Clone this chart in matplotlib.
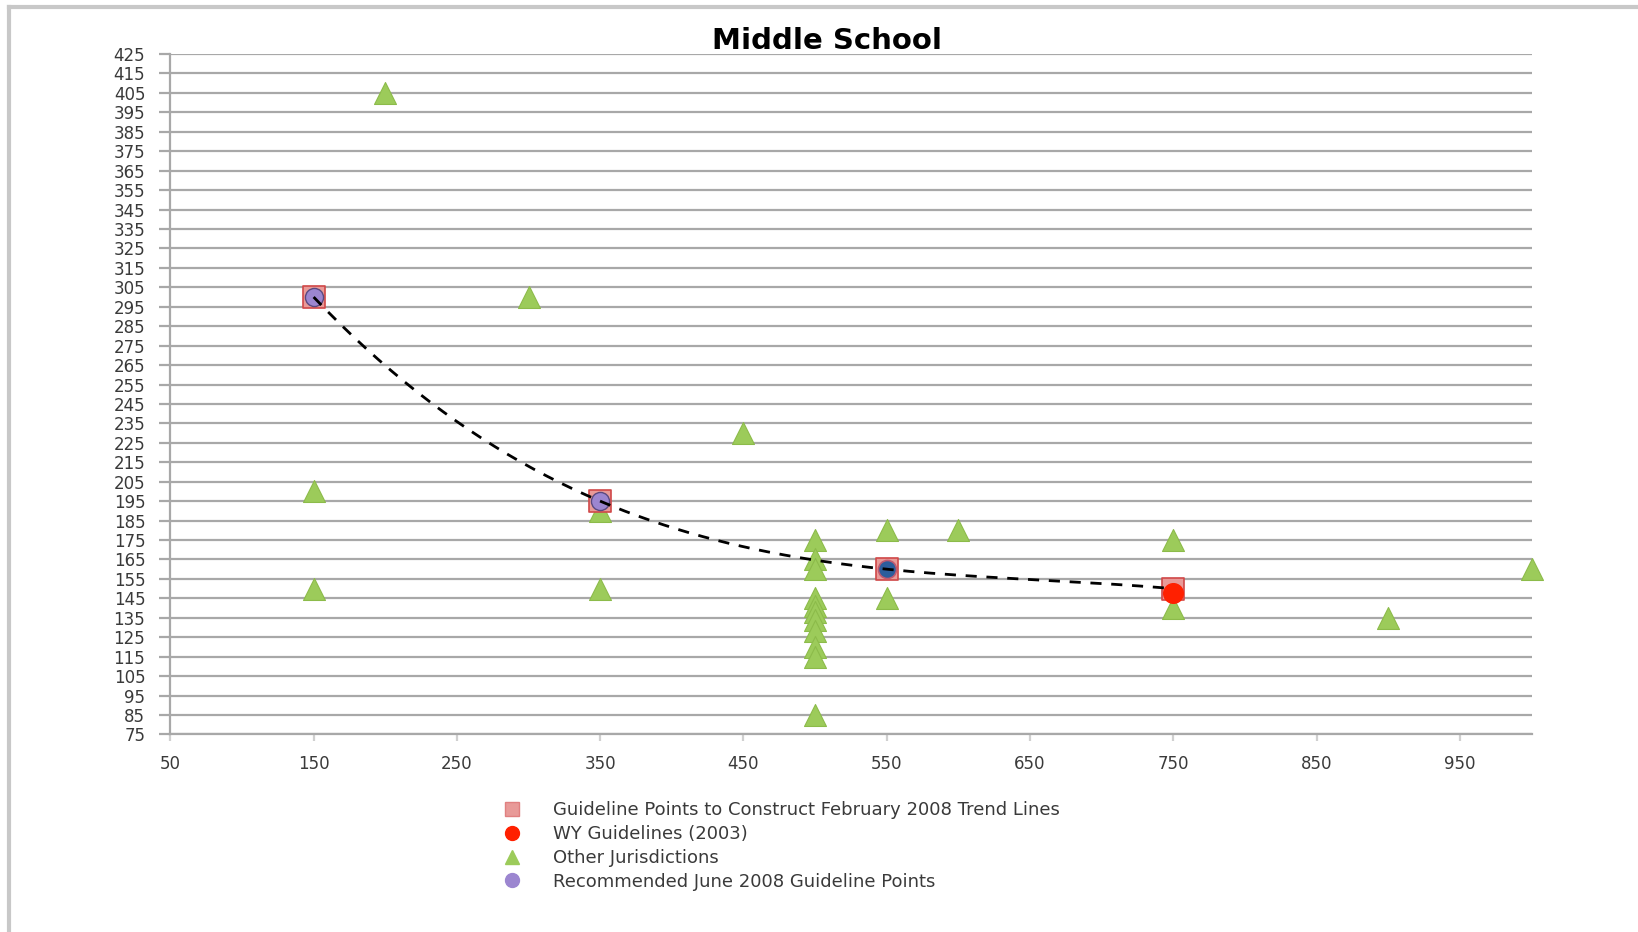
import matplotlib
matplotlib.use('Agg')
import numpy as np
import matplotlib.pyplot as plt
from matplotlib.lines import Line2D

# guideline points used to build the February 2008 trend line
guide_x = [150, 350, 550, 750]
guide_y = [300, 195, 160, 150]

# WY guidelines 2003
wy_x = [750]
wy_y = [148]

# recommended June 2008 points
rec_x = [150, 350]
rec_y = [300, 195]
# point at 550 is drawn blue in the original
blue_x = [550]
blue_y = [160]

# other jurisdictions
oth_x = [200, 300, 150, 150, 350, 350, 450,
         500, 500, 500, 500, 500, 500, 500, 500, 500, 500, 500,
         550, 550, 600, 750, 750, 900, 1000]
oth_y = [405, 300, 200, 150, 190, 150, 230,
         175, 165, 160, 145, 141, 138, 134, 128, 120, 115, 85,
         180, 145, 180, 175, 140, 135, 160]

xticks = np.arange(50, 1000, 100)
yticks = np.arange(75, 426, 10)

fig = plt.figure(figsize=(16.38, 9.32), dpi=100)
ax = fig.add_axes([0.104, 0.212, 0.831, 0.730])

txt_col = '#3a3a3a'
grid_col = '#a8a8a8'

ax.set_xlim(50, 1000)
ax.set_ylim(75, 425)
ax.set_xticks(xticks)
ax.set_yticks(yticks)
ax.set_yticklabels([str(v) for v in yticks], fontsize=12, color=txt_col)
ax.set_xticklabels([str(v) for v in xticks], fontsize=12, color=txt_col)
ax.yaxis.grid(True, color=grid_col, lw=1.6)
ax.set_axisbelow(True)
for s in ['top', 'right']:
    ax.spines[s].set_visible(False)
for s in ['left', 'bottom']:
    ax.spines[s].set_color(grid_col)
    ax.spines[s].set_linewidth(1.6)
ax.tick_params(axis='y', length=8, width=1.6, color=grid_col, pad=10)
ax.tick_params(axis='x', length=5, width=1.6, color='#d0d0d0', pad=10)

green = '#9ccb5a'
ax.scatter(oth_x, oth_y, marker='^', s=250, color=green, edgecolors='#8cbb4a',
           linewidths=0.8, zorder=3, clip_on=False)
ax.scatter(guide_x, guide_y, marker='s', s=260, color='#e89a98', edgecolors='#d04848',
           linewidths=1.2, zorder=4)
ax.scatter(rec_x, rec_y, marker='o', s=170, color='#9c86d0', edgecolors='#5a4a80',
           linewidths=1.0, zorder=5)
ax.scatter(blue_x, blue_y, marker='o', s=170, color='#2c5d9c', edgecolors='#c05a70',
           linewidths=1.2, zorder=5)
ax.scatter(wy_x, wy_y, marker='o', s=200, color='#ff2000', edgecolors='#ff2000',
           zorder=5)

# trend line: cubic through the guideline points
coef = np.polyfit(guide_x, guide_y, 3)
tx = np.linspace(guide_x[0], guide_x[-1], 200)
ax.plot(tx, np.polyval(coef, tx), color='black', lw=2, ls=(0, (4, 3.5)), zorder=6)

fig.text(0.505, 0.956, 'Middle School', ha='center', va='center', fontsize=21,
         fontweight='bold', color='black')

handles = [
    Line2D([], [], marker='s', ls='none', ms=10, mfc='#e89a98', mec='#e08080'),
    Line2D([], [], marker='o', ls='none', ms=10, mfc='#ff2000', mec='#ff2000'),
    Line2D([], [], marker='^', ls='none', ms=10, mfc=green, mec=green),
    Line2D([], [], marker='o', ls='none', ms=10, mfc='#9c86d0', mec='#9c86d0'),
]
labels = ['Guideline Points to Construct February 2008 Trend Lines',
          'WY Guidelines (2003)',
          'Other Jurisdictions',
          'Recommended June 2008 Guideline Points']
leg = fig.legend(handles, labels, loc='upper left', bbox_to_anchor=(0.297, 0.148),
                 frameon=False, fontsize=13, labelspacing=0.32, handletextpad=1.3,
                 borderaxespad=0)
for t in leg.get_texts():
    t.set_color(txt_col)

# outer frame of the pasted chart
fig.add_artist(Line2D([0.0055, 0.0055], [0.0, 0.993], transform=fig.transFigure,
                      color='#c8c8c8', lw=3))
fig.add_artist(Line2D([0.0055, 1.0], [0.993, 0.993], transform=fig.transFigure,
                      color='#c8c8c8', lw=3))

fig.savefig('out.png', dpi=100)
